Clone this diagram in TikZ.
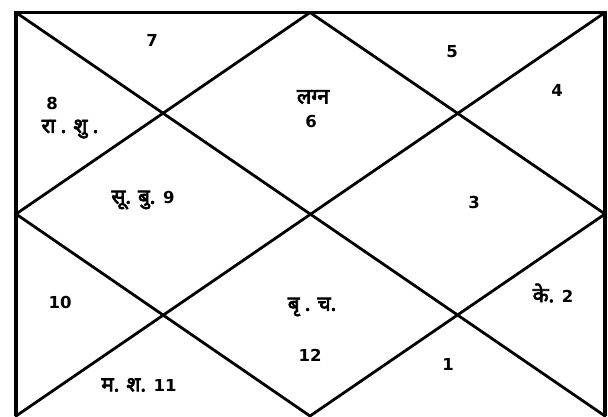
\documentclass[tikz,border=0pt]{standalone}
\usepackage{fontspec}
\setmainfont{DejaVu Sans}
\newfontfamily\dev[Script=Devanagari,FakeBold=3.5,Scale=1.25]{Noto Sans}
\begin{document}
\begin{tikzpicture}[x=1pt,y=-1pt,
  chartline/.style={line width=2.8pt,line cap=round},
  frameline/.style={line width=3.6pt},
  lbl/.style={font=\bfseries\fontsize{16.5}{18}\selectfont,inner sep=0pt,anchor=center}]
\useasboundingbox (0,0) rectangle (608,416);
% corners and mid-points
\coordinate (tl) at (16,12.5);
\coordinate (tr) at (605,12.5);
\coordinate (bl) at (16,416);
\coordinate (br) at (605,416);
\coordinate (tm) at (310,12.5);
\coordinate (lm) at (16,214);
\coordinate (rm) at (605,214);
\coordinate (bm) at (310,416);
% frame (bottom edge lies outside the view)
\draw[frameline] (bl) -- (tl) -- (tr) -- (br);
% diagonals
\draw[chartline] (tl) -- (br);
\draw[chartline] (tr) -- (bl);
% diamond
\draw[chartline] (tm) -- (rm) -- (bm) -- (lm) -- cycle;
% labels
\node[lbl] (h7) at (152,40) {7};
\node[lbl] (h5) at (452,52) {5};
\node[lbl] (h4) at (557,90) {4};
\node[lbl] (h8) at (52,103) {8};
\node[lbl] (p8) at (70,129) {{\dev रा . शु .}};
\node[lbl,font=\fontsize{17}{18}\selectfont] (lagna) at (313,97) {{\dev लग्न}};
\node[lbl] (h6) at (311,121) {6};
\node[lbl] (h9) at (143,200) {{\dev सू. बु.} 9};
\node[lbl] (h3) at (474,202) {3};
\node[lbl] (h10) at (60,302) {10};
\node[lbl] (p12) at (312,307) {{\dev बृ . च.}};
\node[lbl] (h12) at (310,355) {12};
\node[lbl] (h1) at (448,364) {1};
\node[lbl] (h2) at (553,293) {{\dev के.} 2};
\node[lbl] (h11) at (139,385) {{\dev म. श.} 11};
\end{tikzpicture}
\end{document}
